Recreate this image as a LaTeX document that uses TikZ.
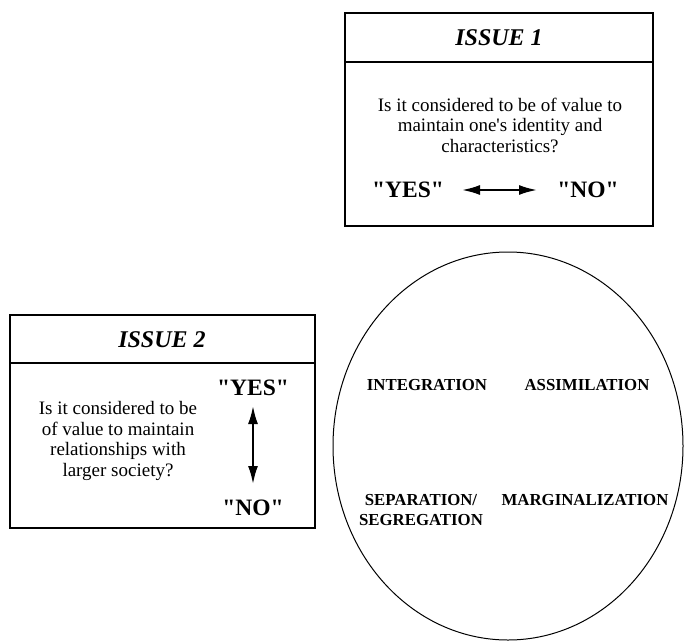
\documentclass[tikz,border=0pt]{standalone}
\usepackage{fontspec}
\setmainfont{Liberation Serif}
\usetikzlibrary{arrows.meta,shapes.geometric}
\begin{document}
\begin{tikzpicture}[x=1pt,y=-1pt,
  frame/.style={draw,line width=1.3pt,minimum width=#1,inner sep=0pt},
  title/.style={font=\fontsize{24}{28}\selectfont\bfseries\itshape},
  question/.style={font=\fontsize{19}{20.5}\selectfont,align=center,inner sep=0pt},
  answer/.style={font=\fontsize{23.5}{28}\selectfont\bfseries,inner sep=0pt},
  mode/.style={font=\fontsize{16.8}{19.5}\selectfont\bfseries,align=center,inner sep=0pt},
  twoway/.style={line width=2pt,{Latex[length=18pt,width=10pt]}-{Latex[length=18pt,width=10pt]}}]
\useasboundingbox (0,0) rectangle (684,642);

% Issue 1 panel
\node[frame=308pt,minimum height=213pt] (box1) at (499,119.5) {};
\coordinate (d1) at (499,62);
\draw[line width=1.3pt] (box1.west |- d1) -- (box1.east |- d1);
\node[title] (t1) at (499,38) {ISSUE 1};
\node[question] (q1) at (500,125) {Is it considered to be of value to\\maintain one\textquotesingle s identity and\\characteristics?};
\node[answer] (yes1) at (408,190) {\textquotedbl YES\textquotedbl};
\node[answer] (no1) at (588,190) {\textquotedbl NO\textquotedbl};
\coordinate (a1s) at (462,190);
\coordinate (a1e) at (537,190);
\draw[twoway] (a1s) -- (a1e);

% Issue 2 panel
\node[frame=305pt,minimum height=213pt] (box2) at (162.5,421.5) {};
\coordinate (d2) at (162.5,363);
\draw[line width=1.3pt] (box2.west |- d2) -- (box2.east |- d2);
\node[title] (t2) at (162,340) {ISSUE 2};
\node[question] (q2) at (118,441) {Is it considered to be\\of value to maintain\\relationships with\\larger society?};
\node[answer] (yes2) at (253,388) {\textquotedbl YES\textquotedbl};
\node[answer] (no2) at (253,508) {\textquotedbl NO\textquotedbl};
\coordinate (a2s) at (253,406);
\coordinate (a2e) at (253,484);
\draw[twoway] (a2s) -- (a2e);

% Strategy ellipse
\node[ellipse,draw,line width=1pt,minimum width=350pt,minimum height=388pt,inner sep=0pt] (oval) at (508,446) {};
\node[mode] (integ) at (427,385) {INTEGRATION};
\node[mode] (assim) at (587,385) {ASSIMILATION};
\node[mode] (separ) at (421,510) {SEPARATION/\\SEGREGATION};
\node[mode] (margi) at (585,500) {MARGINALIZATION};
\end{tikzpicture}
\end{document}
